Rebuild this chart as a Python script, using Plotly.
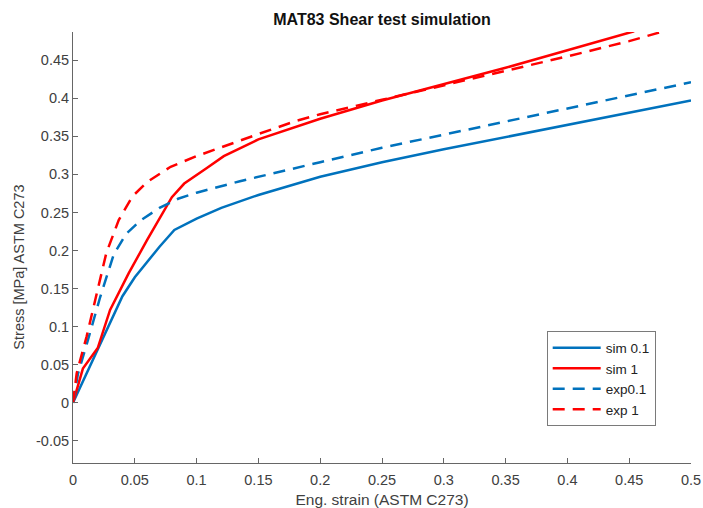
import plotly.graph_objects as go

# Shear test curves: engineering strain vs. stress [MPa]
sim01_strain = [0, 0.01, 0.02, 0.03, 0.04, 0.05, 0.06, 0.07, 0.082, 0.1, 0.12, 0.15,
                0.2, 0.25, 0.3, 0.35, 0.4, 0.45, 0.5]
sim01_stress = [0, 0.035, 0.07, 0.105, 0.14, 0.165, 0.185, 0.205, 0.227, 0.242, 0.256,
                0.273, 0.297, 0.316, 0.333, 0.349, 0.365, 0.381, 0.397]

sim1_strain = [0, 0.008, 0.02, 0.03, 0.045, 0.06, 0.08, 0.09, 0.108, 0.122, 0.15, 0.18,
               0.2, 0.25, 0.3, 0.35, 0.4, 0.454]
sim1_stress = [0, 0.045, 0.072, 0.122, 0.17, 0.214, 0.27, 0.288, 0.308, 0.324, 0.346,
               0.362, 0.373, 0.397, 0.418, 0.44, 0.463, 0.488]

exp01_strain = [0, 0.004, 0.012, 0.022, 0.033, 0.043, 0.055, 0.07, 0.085, 0.1, 0.135,
                0.17, 0.2, 0.25, 0.3, 0.35, 0.4, 0.45, 0.5]
exp01_stress = [0, 0.038, 0.082, 0.139, 0.195, 0.222, 0.24, 0.256, 0.268, 0.276, 0.291,
                0.305, 0.316, 0.335, 0.352, 0.369, 0.386, 0.403, 0.421]

exp1_strain = [0, 0.003, 0.011, 0.019, 0.027, 0.037, 0.048, 0.06, 0.079, 0.1, 0.125,
               0.15, 0.18, 0.2, 0.25, 0.3, 0.35, 0.4, 0.45, 0.478]
exp1_stress = [0, 0.039, 0.087, 0.144, 0.197, 0.24, 0.271, 0.29, 0.31, 0.324, 0.339,
               0.353, 0.37, 0.379, 0.398, 0.417, 0.435, 0.455, 0.475, 0.488]

x_ticks = [0, 0.05, 0.1, 0.15, 0.2, 0.25, 0.3, 0.35, 0.4, 0.45, 0.5]
x_tick_labels = ["0", "0.05", "0.1", "0.15", "0.2", "0.25", "0.3", "0.35", "0.4", "0.45", "0.5"]
y_ticks = [-0.05, 0, 0.05, 0.1, 0.15, 0.2, 0.25, 0.3, 0.35, 0.4, 0.45]
y_tick_labels = ["-0.05", "0", "0.05", "0.1", "0.15", "0.2", "0.25", "0.3", "0.35", "0.4", "0.45"]

BLUE = "#0072BD"
RED = "#FF0000"
FONT = "Liberation Sans, Arial, sans-serif"
AXIS_GREY = "#666666"
TEXT_GREY = "#404040"

fig = go.Figure()
series = [
    ("sim 0.1", sim01_strain, sim01_stress, BLUE, "solid"),
    ("sim 1", sim1_strain, sim1_stress, RED, "solid"),
    ("exp0.1", exp01_strain, exp01_stress, BLUE, "12px,8px"),
    ("exp 1", exp1_strain, exp1_stress, RED, "12px,8px"),
]
for name, xs, ys, color, dash in series:
    fig.add_trace(go.Scatter(
        x=xs, y=ys, name=name, mode="lines",
        line=dict(color=color, width=2.5, dash=dash),
    ))

fig.update_layout(
    width=703, height=508, autosize=False,
    margin=dict(l=73, r=12, t=32, b=45, autoexpand=False),
    paper_bgcolor="white", plot_bgcolor="white",
    font=dict(family=FONT, size=14, color=TEXT_GREY),
    title=dict(
        text="<b>MAT83 Shear test simulation</b>",
        font=dict(family=FONT, size=16, color="#111111"),
        x=(73 + 691) / 2 / 703, xanchor="center",
        y=1 - 19 / 508, yanchor="middle", automargin=False,
    ),
    showlegend=True,
    legend=dict(
        x=0.7665, y=0.3006 + 2 / 430.4, xanchor="left", yanchor="top",
        bgcolor="white", bordercolor="#7a7a7a", borderwidth=1,
        font=dict(family=FONT, size=13.5, color="#222222"),
        tracegroupgap=0, itemwidth=48,
    ),
    xaxis=dict(
        range=[0, 0.5], tickvals=x_ticks, ticktext=x_tick_labels,
        showgrid=False, zeroline=False, automargin=False,
        showline=True, linecolor=AXIS_GREY, linewidth=1,
        ticks="inside", ticklen=5, tickcolor=AXIS_GREY,
        ticklabelstandoff=4,
        tickfont=dict(family=FONT, size=14.5, color=TEXT_GREY),
        title=dict(text="Eng. strain (ASTM C273)", standoff=6,
                   font=dict(family=FONT, size=15.5, color=TEXT_GREY)),
    ),
    yaxis=dict(
        range=[-0.079, 0.487], tickvals=y_ticks, ticktext=y_tick_labels,
        showgrid=False, zeroline=False, automargin=False,
        showline=True, linecolor=AXIS_GREY, linewidth=1,
        ticks="inside", ticklen=5, tickcolor=AXIS_GREY,
        ticklabelstandoff=0,
        tickfont=dict(family=FONT, size=14.5, color=TEXT_GREY),
    ),
    annotations=[dict(
        text="Stress [MPa] ASTM C273", textangle=-90,
        xref="paper", yref="paper", x=-0.088, y=(462.7 - 267) / 430.4,
        xanchor="center", yanchor="middle", showarrow=False,
        font=dict(family=FONT, size=14.5, color=TEXT_GREY),
    )],
)

fig.write_html("out.html")
